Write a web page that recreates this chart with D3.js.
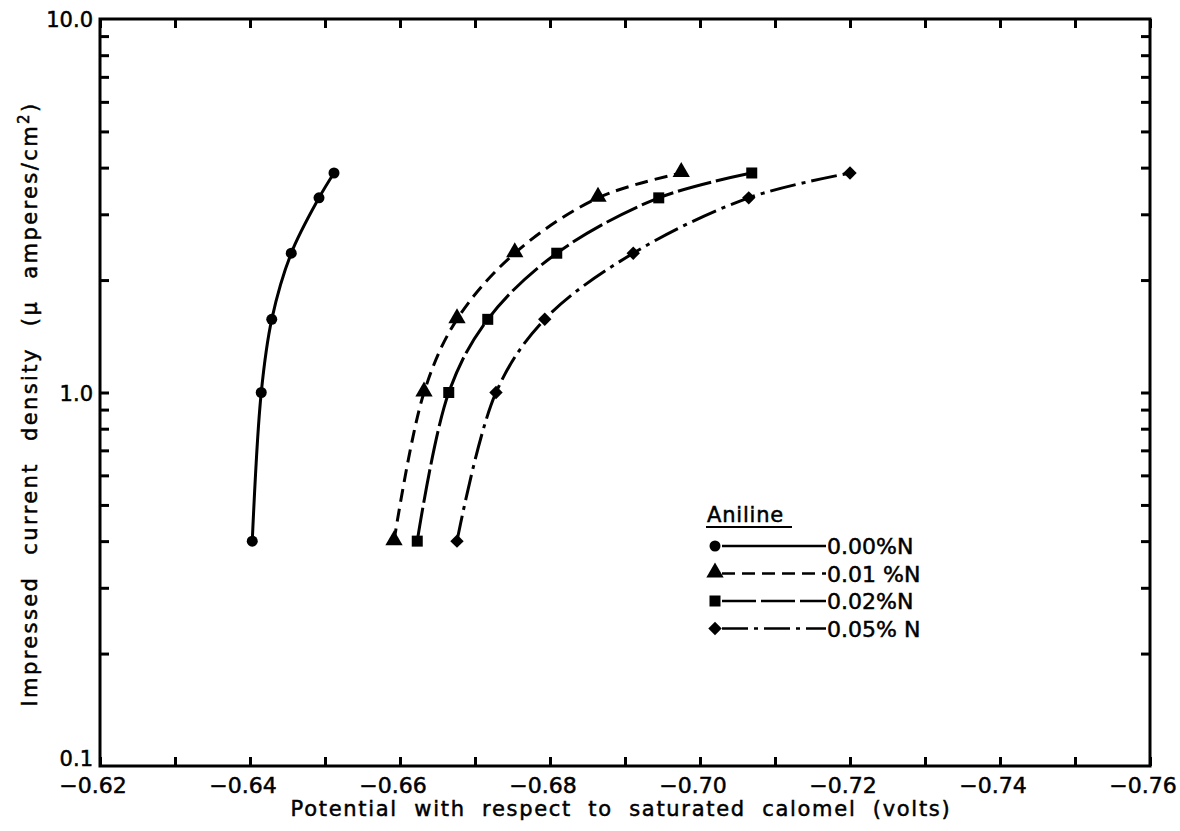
<!DOCTYPE html>
<html>
<head>
<meta charset="utf-8">
<script src="https://cdn.jsdelivr.net/npm/d3@7"></script>
<style>
  body { margin: 0; background: #fff; }
  svg { font-family: "DejaVu Sans", sans-serif; }
  svg text { stroke: #000; stroke-width: 0.5px; }
</style>
</head>
<body>
<svg width="1180" height="831"></svg>
<script>
// data
var currents = [0.4, 1.0, 1.57, 2.36, 3.32, 3.87];   // µA/cm²
var pot000 = [-0.6403, -0.6415, -0.6429, -0.6455, -0.6492, -0.6512];
var pot001 = [-0.6592, -0.6632, -0.6676, -0.6753, -0.6864, -0.6975];
var pot002 = [-0.6623, -0.6665, -0.6717, -0.6809, -0.6945, -0.7069];
var pot005 = [-0.6676, -0.6728, -0.6793, -0.6911, -0.7065, -0.7200];

var seriesNames = ["0.00%N", "0.01 %N", "0.02%N", "0.05% N"];
var xTickValues = [-0.62, -0.63, -0.64, -0.65, -0.66, -0.67, -0.68, -0.69, -0.70, -0.71, -0.72, -0.73, -0.74, -0.75, -0.76];
var xTickLabels = ["−0.62", "", "−0.64", "", "−0.66", "", "−0.68", "", "−0.70", "", "−0.72", "", "−0.74", "", "−0.76"];
var yTickValues = [0.2, 0.3, 0.4, 0.5, 0.6, 0.7, 0.8, 0.9, 1, 2, 3, 4, 5, 6, 7, 8, 9];
var yLabels = [[10, "10.0"], [1, "1.0"], [0.1, "0.1"]];

var svg = d3.select("svg");
var plotLeft = 100, plotRight = 1150, plotTop = 19, plotBottom = 766;

var x = d3.scaleLinear().domain([-0.62, -0.76]).range([plotLeft, plotRight]);
var y = d3.scaleLog().domain([0.1, 10]).range([plotBottom, plotTop]);

var series = [
  { name: seriesNames[0], pots: pot000, marker: "circle",   dash: null },
  { name: seriesNames[1], pots: pot001, marker: "triangle", dash: "13,7" },
  { name: seriesNames[2], pots: pot002, marker: "square",   dash: "34,5" },
  { name: seriesNames[3], pots: pot005, marker: "diamond",  dash: "26,6,4,6" }
];

// axes, ticks pointing into the plot
var tickLen = 9;
function styleAxis(g) {
  g.select(".domain").remove();
  g.selectAll(".tick line").attr("stroke", "#000").attr("stroke-width", 3);
  g.selectAll(".tick text").remove();
}

svg.append("g").attr("transform", "translate(0," + plotBottom + ")")
  .call(d3.axisBottom(x).tickValues(xTickValues).tickSize(-tickLen)).call(styleAxis);
svg.append("g").attr("transform", "translate(0," + plotTop + ")")
  .call(d3.axisTop(x).tickValues(xTickValues).tickSize(-tickLen)).call(styleAxis);
svg.append("g").attr("transform", "translate(" + plotLeft + ",0)")
  .call(d3.axisLeft(y).tickValues(yTickValues).tickSize(-tickLen)).call(styleAxis);
svg.append("g").attr("transform", "translate(" + plotRight + ",0)")
  .call(d3.axisRight(y).tickValues(yTickValues).tickSize(-tickLen)).call(styleAxis);

// frame
svg.append("rect")
  .attr("x", plotLeft).attr("y", plotTop)
  .attr("width", plotRight - plotLeft).attr("height", plotBottom - plotTop)
  .attr("fill", "none").attr("stroke", "#000").attr("stroke-width", 3);

// tick labels
svg.append("g").selectAll("text")
  .data(xTickValues.map(function(v, i) { return [v, xTickLabels[i]]; }).filter(function(d) { return d[1]; }))
  .enter().append("text")
  .attr("x", function(d) { return x(d[0]) - 7; })
  .attr("y", plotBottom + 27)
  .attr("text-anchor", "middle")
  .attr("font-size", 22)
  .text(function(d) { return d[1]; });

svg.append("g").selectAll("text")
  .data(yLabels)
  .enter().append("text")
  .attr("x", plotLeft - 7)
  .attr("y", function(d) { return y(d[0]) + (d[0] === 0.1 ? 0 : 8); })
  .attr("text-anchor", "end")
  .attr("font-size", 21)
  .text(function(d) { return d[1]; });

// axis titles
svg.append("text")
  .attr("x", 621).attr("y", 816)
  .attr("text-anchor", "middle")
  .attr("font-size", 21)
  .attr("letter-spacing", 1.7)
  .attr("word-spacing", 8)
  .text("Potential with respect to saturated calomel (volts)");

svg.append("text")
  .attr("transform", "translate(37,404) rotate(-90)")
  .attr("text-anchor", "middle")
  .attr("font-size", 21)
  .attr("letter-spacing", 2.4)
  .attr("word-spacing", 12)
  .html("Impressed current density (μ amperes/cm<tspan dy='-8' font-size='15'>2</tspan><tspan dy='8'>)</tspan>");

// markers
function drawMarker(g, type, cx, cy) {
  if (type === "circle") {
    g.append("circle").attr("cx", cx).attr("cy", cy).attr("r", 5.5).attr("fill", "#000");
  } else if (type === "triangle") {
    g.append("path").attr("d", d3.symbol().type(d3.symbolTriangle).size(130)())
      .attr("transform", "translate(" + cx + "," + (cy - 1) + ")").attr("fill", "#000");
  } else if (type === "square") {
    g.append("rect").attr("x", cx - 5.5).attr("y", cy - 5.5).attr("width", 11).attr("height", 11).attr("fill", "#000");
  } else {
    g.append("path").attr("d", d3.symbol().type(d3.symbolSquare).size(90)())
      .attr("transform", "translate(" + cx + "," + cy + ") rotate(45)").attr("fill", "#000");
  }
}

var line = d3.line()
  .x(function(d) { return x(d[0]); })
  .y(function(d) { return y(d[1]); })
  .curve(d3.curveCatmullRom.alpha(0.5));

var plot = svg.append("g");
series.forEach(function(s) {
  var pts = s.pots.map(function(p, i) { return [p, currents[i]]; });
  plot.append("path")
    .attr("d", line(pts))
    .attr("fill", "none")
    .attr("stroke", "#000")
    .attr("stroke-width", 3)
    .attr("stroke-dasharray", s.dash);
  pts.forEach(function(d) { drawMarker(plot, s.marker, x(d[0]), y(d[1])); });
});

// legend
var legend = svg.append("g");
legend.append("text")
  .attr("x", 707).attr("y", 522)
  .attr("font-size", 21)
  .attr("letter-spacing", 0.8)
  .text("Aniline");
legend.append("line")
  .attr("x1", 706).attr("x2", 792).attr("y1", 527).attr("y2", 527)
  .attr("stroke", "#000").attr("stroke-width", 2);

series.forEach(function(s, i) {
  var ly = 546 + i * 27.5;
  drawMarker(legend, s.marker, 715, ly);
  legend.append("line")
    .attr("x1", 722).attr("x2", 826).attr("y1", ly).attr("y2", ly)
    .attr("stroke", "#000").attr("stroke-width", 2.5)
    .attr("stroke-dasharray", s.dash);
  legend.append("text")
    .attr("x", 827).attr("y", ly + 8)
    .attr("font-size", 22)
    .text(s.name);
});
</script>
</body>
</html>
